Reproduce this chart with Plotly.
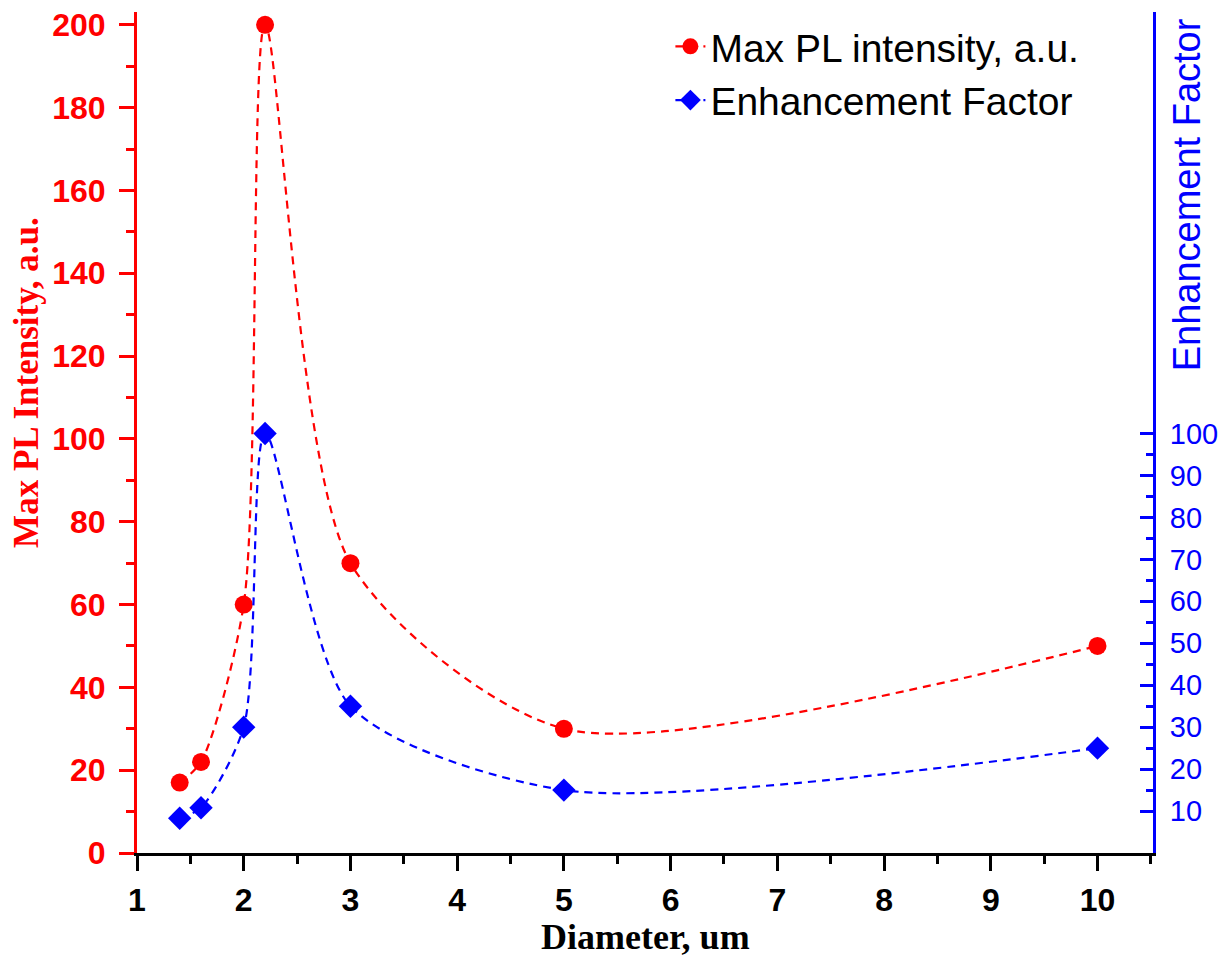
import plotly.graph_objects as go

diameter = [1.4, 1.6, 2.0, 2.2, 3.0, 5.0, 10.0]
max_pl = [17, 22, 60, 200, 70, 30, 50]
enhancement = [8.3, 10.8, 30, 100, 35, 15, 25]

x_ticks = [1, 2, 3, 4, 5, 6, 7, 8, 9, 10]
left_ticks = [0, 20, 40, 60, 80, 100, 120, 140, 160, 180, 200]
right_ticks = [10, 20, 30, 40, 50, 60, 70, 80, 90, 100]
right_minor = [15, 25, 35, 45, 55, 65, 75, 85, 95]

RED = "#ff0000"
BLUE = "#0000ff"

fig = go.Figure()
fig.add_trace(go.Scatter(
    x=diameter, y=max_pl, name="Max PL intensity, a.u.",
    mode="lines+markers",
    line=dict(color=RED, width=2.2, dash="8px,6px", shape="spline", smoothing=0.75),
    marker=dict(symbol="circle", size=18, color=RED),
    yaxis="y",
))
fig.add_trace(go.Scatter(
    x=diameter, y=enhancement, name="Enhancement Factor",
    mode="lines+markers",
    line=dict(color=BLUE, width=2.2, dash="8px,6px", shape="spline", smoothing=0.75),
    marker=dict(symbol="diamond", size=18, color=BLUE),
    yaxis="y2",
))

fig.update_layout(
    width=1224, height=950,
    margin=dict(l=129, r=79, t=4, b=105),
    plot_bgcolor="white", paper_bgcolor="white",
    showlegend=True,
    legend=dict(
        x=0.525, y=0.997, xanchor="left", yanchor="top",
        font=dict(family="Liberation Sans, Arial", size=39, color="black"),
        bgcolor="rgba(0,0,0,0)", tracegroupgap=0,
    ),
    xaxis=dict(
        range=[1, 10.52], tickvals=x_ticks, ticktext=[str(v) for v in x_ticks],
        showgrid=False, zeroline=False, automargin=False,
        showline=True, linecolor="black", linewidth=3,
        ticks="outside", ticklen=15, tickwidth=3, tickcolor="black",
        minor=dict(ticks="outside", ticklen=8, tickwidth=3, tickcolor="black", dtick=0.5, showgrid=False),
        tickfont=dict(family="Liberation Sans, Arial", size=32, color="black", weight="bold"),
        ticklabelstandoff=2, ticklabeloverflow="allow",
    ),
    yaxis=dict(
        range=[0, 203.1], tickvals=left_ticks,
        showgrid=False, zeroline=False, automargin=False,
        showline=True, linecolor=RED, linewidth=3,
        ticks="outside", ticklen=15, tickwidth=3, tickcolor=RED,
        minor=dict(ticks="outside", ticklen=8, tickwidth=3, tickcolor=RED, dtick=10, showgrid=False),
        tickfont=dict(family="Liberation Sans, Arial", size=32, color=RED, weight="bold"),
        ticklabelstandoff=7, ticklabeloverflow="allow",
    ),
    yaxis2=dict(
        range=[0, 200.5], overlaying="y", side="right", anchor="x",
        tickvals=right_ticks, automargin=False,
        showgrid=False, zeroline=False,
        showline=True, linecolor=BLUE, linewidth=3,
        ticks="inside", ticklen=13, tickwidth=3, tickcolor=BLUE,
        minor=dict(ticks="inside", ticklen=7, tickwidth=3, tickcolor=BLUE, tickvals=right_minor, showgrid=False),
        tickfont=dict(family="Liberation Sans, Arial", size=29, color=BLUE),
        ticklabelstandoff=8, ticklabeloverflow="allow",
    ),
    annotations=[
        dict(text="Max PL Intensity, a.u.", textangle=-90, xref="paper", yref="paper",
             x=-110 / 1016, y=0.559, xanchor="center", yanchor="middle", showarrow=False,
             font=dict(family="Liberation Serif, Times New Roman", size=35, color=RED, weight="bold")),
        dict(text="Enhancement Factor", textangle=-90, xref="paper", yref="paper",
             x=1.0 + 34 / 1016, y=0.782, xanchor="center", yanchor="middle", showarrow=False,
             font=dict(family="Liberation Sans, Arial", size=38, color=BLUE)),
        dict(text="Diameter, um", xref="paper", yref="paper",
             x=0.5, y=-84 / 841, xanchor="center", yanchor="middle", showarrow=False,
             font=dict(family="Liberation Serif, Times New Roman", size=36, color="black", weight="bold")),
    ],
)

fig.write_html("out.html")
